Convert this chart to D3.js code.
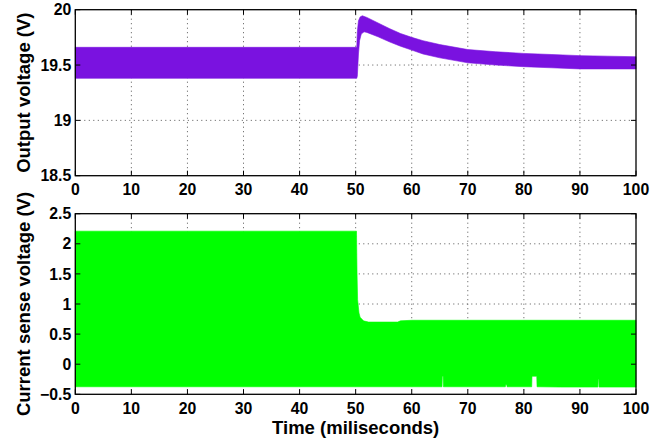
<!DOCTYPE html>
<html>
<head>
<meta charset="utf-8">
<script src="https://cdn.jsdelivr.net/npm/d3@7"></script>
<style>
body { margin: 0; background: #fff; }
svg { display: block; font-family: "Liberation Sans", Arial, sans-serif; font-weight: bold; }
</style>
</head>
<body>
<svg id="chart" width="667" height="441"></svg>
<script>
// tick values
const timeTicks = [0, 10, 20, 30, 40, 50, 60, 70, 80, 90, 100];
const outTicks = [18.5, 19, 19.5, 20];
const curTicks = [-0.5, 0, 0.5, 1, 1.5, 2, 2.5];

// output voltage envelope (upper / lower edge of the ripple band)
const outHiT = [0, 50.2, 50.3, 50.5, 50.8, 51.2, 52, 54, 56, 58, 60, 62, 65, 70, 75, 80, 85, 90, 95, 100];
const outHi = [19.66, 19.66, 19.80, 19.90, 19.935, 19.945, 19.93, 19.88, 19.83, 19.785, 19.75, 19.72, 19.685, 19.64, 19.62, 19.605, 19.595, 19.585, 19.58, 19.575];
const outLoT = [0, 50.2, 50.3, 50.5, 50.7, 51, 51.5, 52, 54, 56, 58, 60, 62, 65, 70, 75, 80, 85, 90, 95, 100];
const outLo = [19.38, 19.38, 19.40, 19.60, 19.72, 19.78, 19.80, 19.795, 19.755, 19.71, 19.67, 19.635, 19.60, 19.565, 19.52, 19.50, 19.485, 19.475, 19.465, 19.465, 19.465];

// current sense voltage envelope
const curHiT = [0, 50.15, 50.25, 50.35, 50.6, 50.8, 51.4, 52.3, 57.5, 58, 60, 100];
const curHi = [2.21, 2.21, 1.5, 1.07, 0.85, 0.78, 0.72, 0.70, 0.70, 0.72, 0.73, 0.73];
const curLoT = [0, 65.4, 65.45, 65.6, 65.65, 76.7, 76.75, 76.95, 77, 81.4, 81.45, 82.3, 82.35, 86.5, 93.2, 93.25, 93.35, 93.4, 100];
const curLo = [-0.375, -0.375, -0.2, -0.2, -0.375, -0.375, -0.34, -0.34, -0.375, -0.375, -0.2, -0.2, -0.375, -0.38, -0.38, -0.25, -0.25, -0.38, -0.38];

const svg = d3.select("#chart");
const left = 75.3, right = 636;
const x = d3.scaleLinear().domain([0, 100]).range([left, right]);

function band(hiT, hi, loT, lo) {
	let pts = hiT.map((t, i) => [t, hi[i]]);
	for (let i = loT.length - 1; i >= 0; i--) pts.push([loT[i], lo[i]]);
	return pts;
}

function panel(top, bottom, domain, yTicks, label, pts, color) {
	const y = d3.scaleLinear().domain(domain).range([bottom, top]);
	const g = svg.append("g");
	// grid
	g.selectAll(".vg").data(timeTicks.slice(1, -1)).enter().append("line")
		.attr("x1", d => x(d)).attr("x2", d => x(d))
		.attr("y1", top).attr("y2", bottom)
		.style("stroke", "#555").style("stroke-dasharray", "1,3.5").style("stroke-width", 1);
	g.selectAll(".hg").data(yTicks.slice(1, -1)).enter().append("line")
		.attr("y1", d => y(d)).attr("y2", d => y(d))
		.attr("x1", left).attr("x2", right)
		.style("stroke", "#555").style("stroke-dasharray", "1,3.5").style("stroke-width", 1);
	// data band
	const line = d3.line().x(d => x(d[0])).y(d => y(d[1]));
	g.append("path").attr("d", line(pts) + "Z")
		.style("fill", color).style("stroke", color).style("stroke-width", 0.6);
	// ticks inside on all four sides
	const tl = 5;
	timeTicks.forEach(t => {
		g.append("line").attr("x1", x(t)).attr("x2", x(t)).attr("y1", bottom).attr("y2", bottom - tl).style("stroke", "#000");
		g.append("line").attr("x1", x(t)).attr("x2", x(t)).attr("y1", top).attr("y2", top + tl).style("stroke", "#000");
	});
	yTicks.forEach(v => {
		g.append("line").attr("y1", y(v)).attr("y2", y(v)).attr("x1", left).attr("x2", left + tl).style("stroke", "#000");
		g.append("line").attr("y1", y(v)).attr("y2", y(v)).attr("x1", right).attr("x2", right - tl).style("stroke", "#000");
	});
	g.append("rect").attr("x", left).attr("y", top).attr("width", right - left).attr("height", bottom - top)
		.style("fill", "none").style("stroke", "#000").style("stroke-width", 1.3);
	// tick labels
	g.selectAll(".xl").data(timeTicks).enter().append("text")
		.attr("x", d => x(d)).attr("y", bottom + 19.5)
		.attr("text-anchor", "middle").style("font-size", "15.8px")
		.text(d => d);
	g.selectAll(".yl").data(yTicks).enter().append("text")
		.attr("x", left - 4).attr("y", d => y(d) + 5.6)
		.attr("text-anchor", "end").style("font-size", "15.8px")
		.text(d => d3.format("")(d).replace("-", "\u2212"));
	g.append("text")
		.attr("transform", `translate(29.5,${(top + bottom) / 2}) rotate(-90)`)
		.attr("text-anchor", "middle").style("font-size", "18.5px")
		.text(label);
	return y;
}

panel(9.7, 175.7, [18.5, 20], outTicks, "Output voltage (V)", band(outHiT, outHi, outLoT, outLo), "#7a12e0");
panel(213.7, 394.3, [-0.5, 2.5], curTicks, "Current sense voltage (V)", band(curHiT, curHi, curLoT, curLo), "#00ff00");

svg.append("text")
	.attr("x", (left + right) / 2).attr("y", 434)
	.attr("text-anchor", "middle").style("font-size", "18.5px")
	.text("Time (miliseconds)");
</script>
</body>
</html>
